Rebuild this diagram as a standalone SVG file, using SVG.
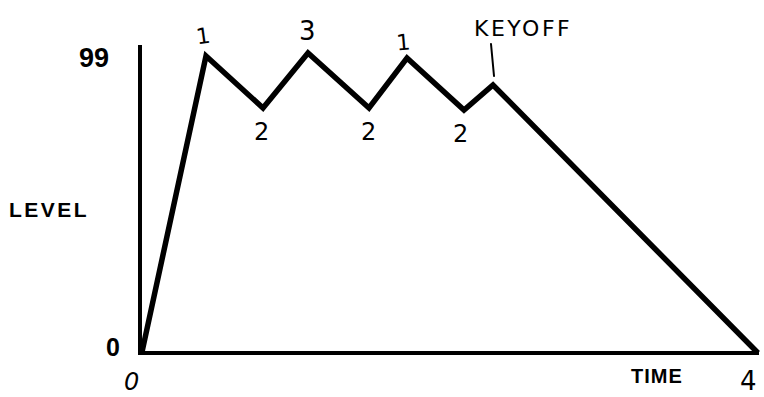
<svg xmlns="http://www.w3.org/2000/svg" width="764" height="397" viewBox="0 0 764 397">
<style>
.axis{stroke:#000;stroke-width:4;fill:none}
.env{stroke:#000;stroke-width:5.5;fill:none;stroke-linejoin:miter}
.lab{font-family:"Liberation Sans",Arial,sans-serif;font-weight:bold;fill:#000}
.hand{font-family:"DejaVu Sans","Liberation Sans",sans-serif;font-weight:normal;fill:#000}
.tick{stroke:#000;stroke-width:2;fill:none;stroke-linecap:round}
</style>
<rect width="764" height="397" fill="#fff"/>
<g id="axes">
<line class="axis" x1="140" y1="45" x2="140" y2="355"/>
<line class="axis" x1="138" y1="353" x2="759" y2="353"/>
</g>
<g id="connectors">
<polyline class="env" points="142,352 206,56 263,108 308,53 369,108 407,58 464,110 493,85 758,353"/>
</g>
<g id="axis-labels">
<text class="lab" x="79" y="67" font-size="27">99</text>
<text class="lab" x="9" y="217" font-size="21" letter-spacing="2.5">LEVEL</text>
<text class="lab" x="106" y="356" font-size="25">0</text>
<text class="lab" x="631" y="383" font-size="20" letter-spacing="1">TIME</text>
</g>
<g id="stage-labels">
<text class="hand" x="196" y="44" font-size="22" transform="rotate(-8 201 35)">1</text>
<text class="hand" x="299" y="40" font-size="26">3</text>
<text class="hand" x="254" y="140" font-size="24">2</text>
<text class="hand" x="396" y="50" font-size="22" transform="rotate(-5 401 40)">1</text>
<text class="hand" x="361" y="140" font-size="24">2</text>
<text class="hand" x="453" y="142" font-size="24">2</text>
<text class="hand" x="474" y="36" font-size="22" letter-spacing="2.5">KEYOFF</text>
<line class="tick" x1="491" y1="44" x2="494" y2="76"/>
<text class="hand" x="124" y="390" font-size="24" font-style="italic">0</text>
<text class="hand" x="740" y="390" font-size="26">4</text>
</g>
</svg>
